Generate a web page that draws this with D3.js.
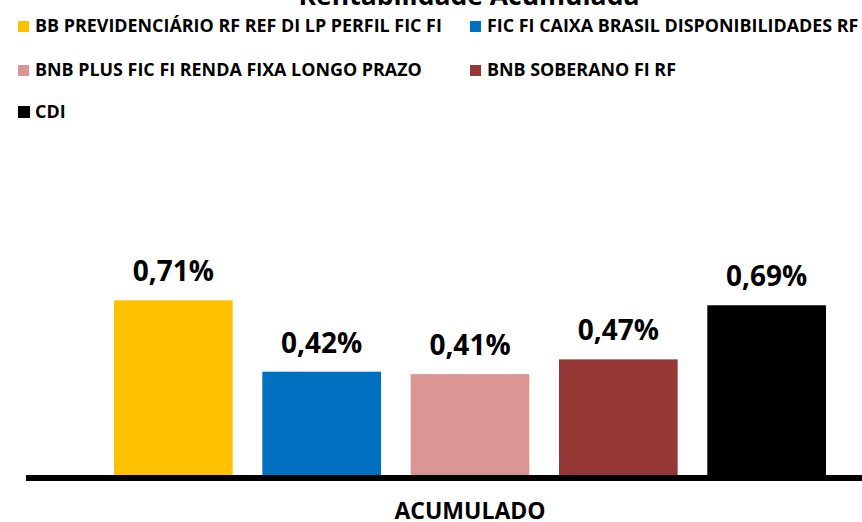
<!DOCTYPE html>
<html><head><meta charset="utf-8">
<script src="https://cdn.jsdelivr.net/npm/d3@7"></script>
<style>body{margin:0;background:#fff}svg{display:block}text{font-family:"Open Sans","Noto Sans",sans-serif;font-weight:bold;fill:#000}</style>
</head><body>
<svg id="c" width="862" height="522"></svg>
<script>
// ---- data ----
const title = "Rentabilidade Acumulada";
const category = "ACUMULADO";
const series = [
  "BB PREVIDENCIÁRIO RF REF DI LP PERFIL FIC FI",
  "FIC FI CAIXA BRASIL DISPONIBILIDADES RF",
  "BNB PLUS FIC FI RENDA FIXA LONGO PRAZO",
  "BNB SOBERANO FI RF",
  "CDI"
];
const values = [0.71, 0.42, 0.41, 0.47, 0.69];
const colors = ["#FFC000", "#0070C0", "#DA9694", "#953735", "#000000"];

// ---- layout ----
const W = 862, H = 522;
const baseY = 475;
const svg = d3.select("#c");

const x = d3.scaleBand().domain(series).range([114, 826]).paddingInner(0.2).paddingOuter(0);
const y = d3.scaleLinear().domain([0, 1]).range([baseY, baseY - 246]);

// title (mostly clipped at top edge, as in the reference)
svg.append("text").attr("x", 469).attr("y", 5).attr("text-anchor", "middle")
  .attr("font-size", 26.5).text(title);

// legend
const legPos = [[18, 32], [470, 32], [18, 76], [470, 76], [18, 118]];
const leg = svg.append("g").selectAll("g").data(series).join("g")
  .attr("transform", (d, i) => `translate(${legPos[i][0]},${legPos[i][1]})`);
leg.append("rect").attr("x", 0).attr("y", (d,i)=> i===4 ? -12 : -11)
  .attr("width", (d,i)=> i===4 ? 12 : 11).attr("height", (d,i)=> i===4 ? 12 : 11)
  .attr("fill", (d, i) => colors[i]);
leg.append("text").attr("x", 17).attr("y", 0).attr("font-size", 17.9).text(d => d);

// bars
svg.append("g").selectAll("rect").data(series).join("rect")
  .attr("x", d => x(d)).attr("width", x.bandwidth())
  .attr("y", (d, i) => y(values[i])).attr("height", (d, i) => baseY - y(values[i]))
  .attr("fill", (d, i) => colors[i]);

// value labels
svg.append("g").selectAll("text").data(series).join("text")
  .attr("x", d => x(d) + x.bandwidth() / 2)
  .attr("y", (d, i) => y(values[i]) - 19)
  .attr("text-anchor", "middle").attr("font-size", 28)
  .text((d, i) => values[i].toFixed(2).replace(".", ",") + "%");

// axis line
svg.append("line").attr("x1", 26).attr("x2", W).attr("y1", baseY + 3).attr("y2", baseY + 3)
  .attr("stroke", "#000").attr("stroke-width", 6);

// category label
svg.append("text").attr("x", 470).attr("y", 519).attr("text-anchor", "middle")
  .attr("font-size", 23).text(category);
</script></body></html>
